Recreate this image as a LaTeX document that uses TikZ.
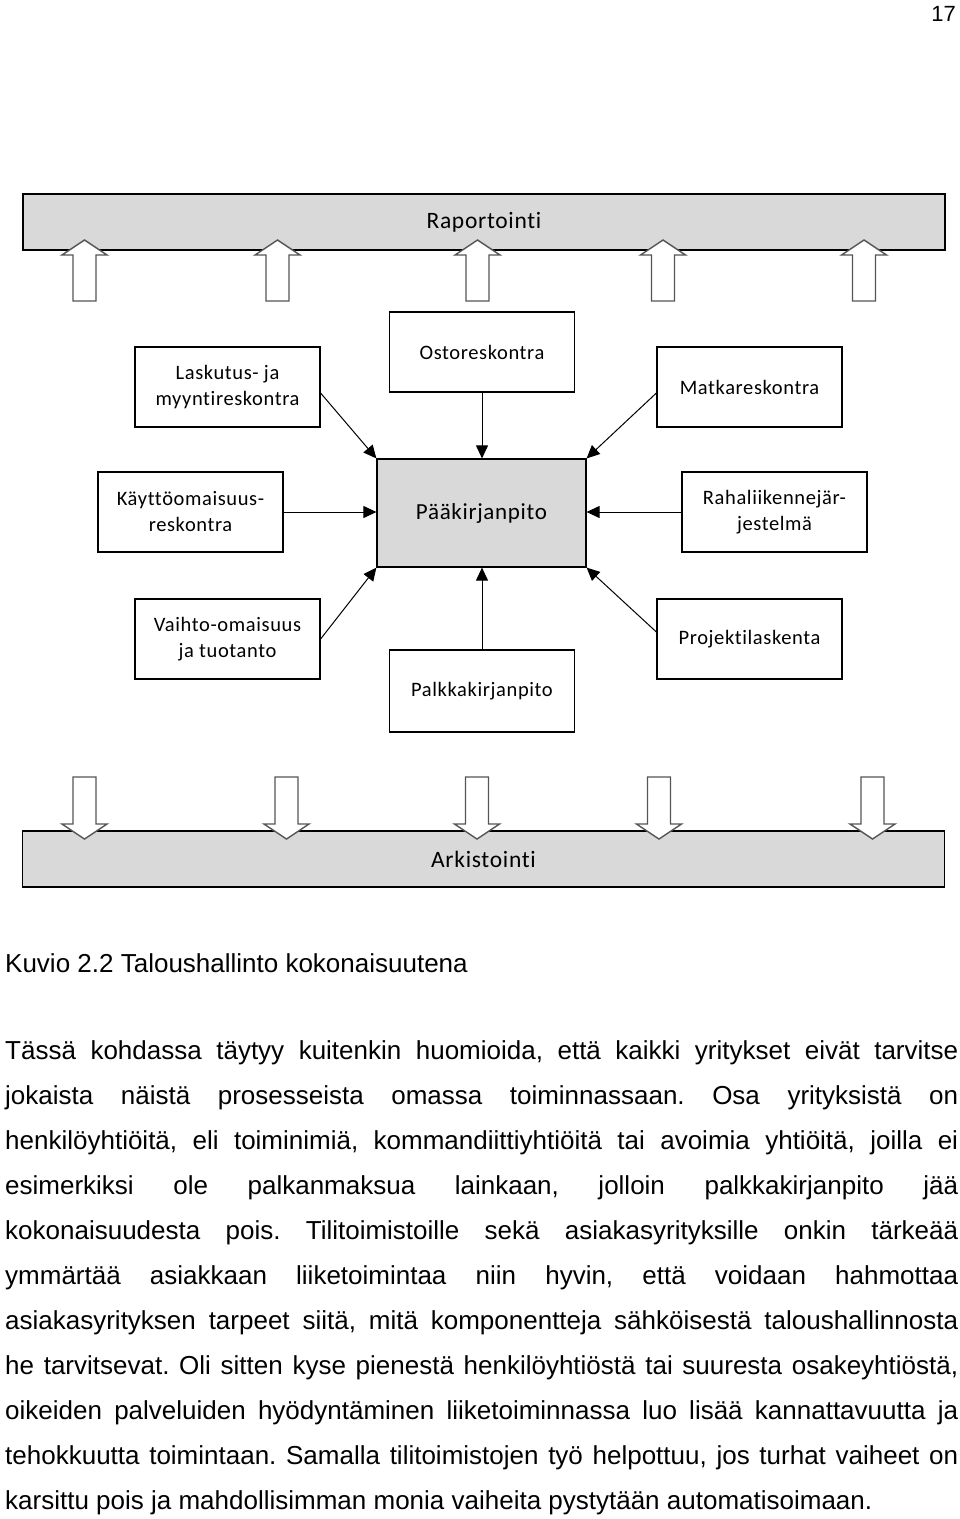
\documentclass[tikz,border=0pt]{standalone}
\usepackage{fontspec}
\setmainfont{Liberation Sans}
\newfontfamily\boxfont[LetterSpace=3,Ligatures=NoCommon]{Carlito}
\usepackage{tikz}
\usetikzlibrary{calc, arrows.meta}
\definecolor{barfill}{HTML}{D9D9D9}
\definecolor{blockline}{HTML}{555555}
\tikzset{>={Triangle[width=12pt,length=13pt]}}
\tikzset{
	modbox/.style={draw, line width=1.2pt, fill=white, minimum width=185pt, minimum height=80pt, align=center, inner sep=0pt, font=\boxfont\fontsize{20.5}{26}\selectfont},
	barbox/.style={draw, line width=1.5pt, fill=barfill, minimum width=922pt, minimum height=56pt, inner sep=0pt, font=\boxfont\fontsize{23.5}{26}\selectfont},
	blockarrow/.style={draw=blockline, line width=1.4pt, fill=white, line join=miter},
	link/.style={->, line width=1pt},
	bodyline/.style={anchor=base west, inner sep=0pt, font=\fontsize{26}{45}\selectfont},
}
\newcommand{\fullline}[1]{\makebox[953pt][s]{#1}}
\frenchspacing

\begin{document}
\begin{tikzpicture}[x=1pt,y=-1pt]
	\useasboundingbox (0,0) rectangle (960,1519);
	\node[anchor=base east, inner sep=0pt, font=\fontsize{22}{24}\selectfont] (pagenum) at (956,21) {17};
	% top and bottom bars
	\node[barbox] (rapo) at (484,222) {Raportointi};
	\node[barbox] (arkis) at (483.5,859) {Arkistointi};
	\foreach \x in {84.5, 277.5, 477.5, 663, 864}
		\draw[blockarrow] (\x-11.5,301) -- (\x-11.5,255) -- (\x-22.5,255) -- (\x,240) -- (\x+22.5,255) -- (\x+11.5,255) -- (\x+11.5,301) -- cycle;
	\foreach \x in {84.5, 286.5, 477, 659, 872.5}
		\draw[blockarrow] (\x-11.5,777) -- (\x-11.5,824) -- (\x-22.5,824) -- (\x,839) -- (\x+22.5,824) -- (\x+11.5,824) -- (\x+11.5,777) -- cycle;
	% modules round the general ledger
	\node[modbox, fill=barfill, minimum width=209pt, minimum height=108pt, font=\boxfont\fontsize{23}{26}\selectfont] (paa) at (481.5,513) {Pääkirjanpito};
	\node[modbox] (lasku) at (227.5,387) {Laskutus- ja\\myyntireskontra};
	\node[modbox] (osto) at (482,352) {Ostoreskontra};
	\node[modbox] (matka) at (749.5,387) {Matkareskontra};
	\node[modbox] (kaytto) at (190.5,512) {Käyttöomaisuus-\\reskontra};
	\node[modbox] (raha) at (774.5,512) {Rahaliikennejär-\\jestelmä};
	\node[modbox] (vaihto) at (227.5,639) {Vaihto-omaisuus\\ja tuotanto};
	\node[modbox, minimum height=82pt] (palkka) at (482,691) {Palkkakirjanpito};
	\node[modbox] (projekti) at (749.5,639) {Projektilaskenta};
	\draw[link] ([yshift=-6pt]lasku.east) -- (paa.north west);
	\draw[link] (osto.south) -- (osto.south |- paa.north);
	\draw[link] ([yshift=-6pt]matka.west) -- (paa.north east);
	\draw[link] (kaytto.east) -- (kaytto.east -| paa.west);
	\draw[link] (raha.west) -- (raha.west -| paa.east);
	\draw[link] (vaihto.east) -- (paa.south west);
	\draw[link] (palkka.north) -- (palkka.north |- paa.south);
	\draw[link] ([yshift=7pt]projekti.west) -- (paa.south east);
	% caption and text
	\node[bodyline] (caption) at (5,972) {Kuvio 2.2 Taloushallinto kokonaisuutena};
	\foreach \txt [count=\i from 0] in {
		{Tässä kohdassa täytyy kuitenkin huomioida, että kaikki yritykset eivät tarvitse},
		{jokaista näistä prosesseista omassa toiminnassaan. Osa yrityksistä on},
		{henkilöyhtiöitä, eli toiminimiä, kommandiittiyhtiöitä tai avoimia yhtiöitä, joilla ei},
		{esimerkiksi ole palkanmaksua lainkaan, jolloin palkkakirjanpito jää},
		{kokonaisuudesta pois. Tilitoimistoille sekä asiakasyrityksille onkin tärkeää},
		{ymmärtää asiakkaan liiketoimintaa niin hyvin, että voidaan hahmottaa},
		{asiakasyrityksen tarpeet siitä, mitä komponentteja sähköisestä taloushallinnosta},
		{he tarvitsevat. Oli sitten kyse pienestä henkilöyhtiöstä tai suuresta osakeyhtiöstä,},
		{oikeiden palveluiden hyödyntäminen liiketoiminnassa luo lisää kannattavuutta ja},
		{tehokkuutta toimintaan. Samalla tilitoimistojen työ helpottuu, jos turhat vaiheet on}}
		\node[bodyline] (line\i) at (5,1059+45*\i) {\fullline{\txt}};
	\node[bodyline] (lastline) at (5,1509) {karsittu pois ja mahdollisimman monia vaiheita pystytään automatisoimaan.};
\end{tikzpicture}
\end{document}
